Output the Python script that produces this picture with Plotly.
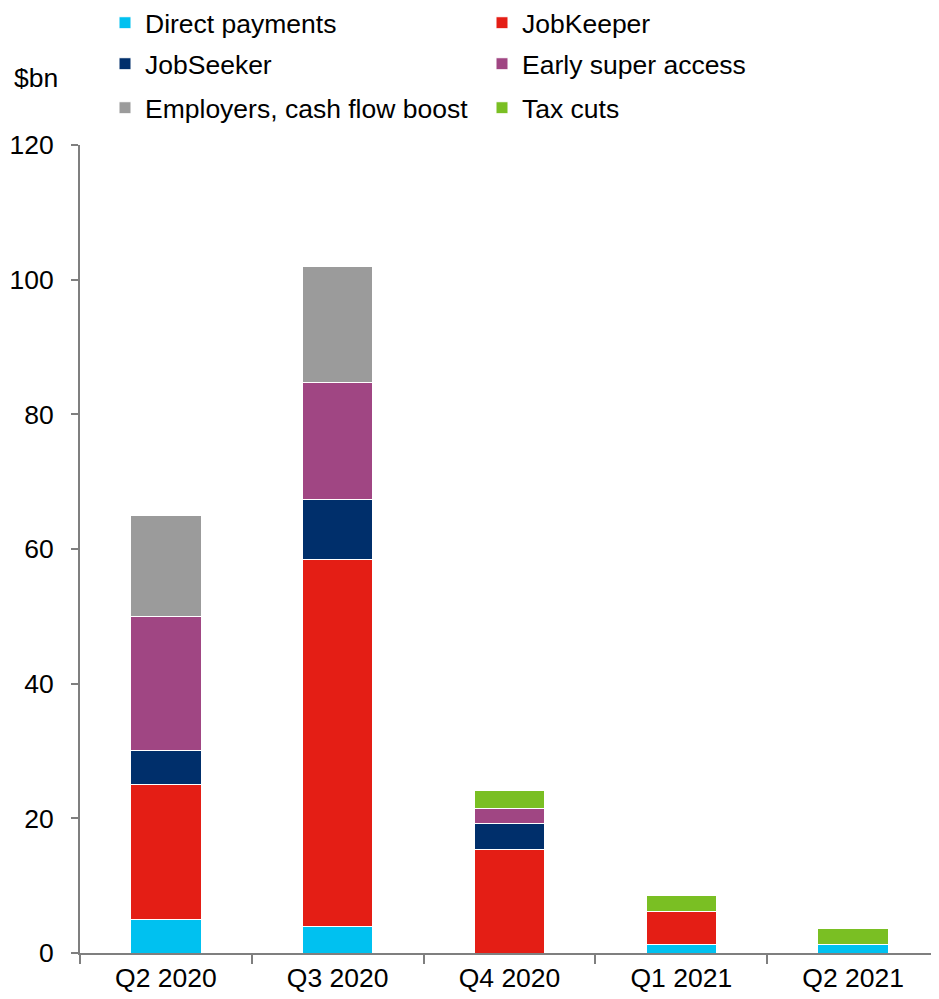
import plotly.graph_objects as go

categories = ["Q2 2020", "Q3 2020", "Q4 2020", "Q1 2021", "Q2 2021"]
direct_payments = [5.0, 4.0, 0.0, 1.3, 1.3]
jobkeeper = [20.0, 54.5, 15.4, 4.9, 0.0]
jobseeker = [5.1, 8.8, 3.8, 0.0, 0.0]
early_super = [19.9, 17.5, 2.3, 0.0, 0.0]
employers_cash = [15.0, 17.1, 0.0, 0.0, 0.0]
tax_cuts = [0.0, 0.0, 2.6, 2.4, 2.4]
y_ticks = [0, 20, 40, 60, 80, 100, 120]

series = [
    ("Direct payments", direct_payments, "#00C1F0", "legend"),
    ("JobKeeper", jobkeeper, "#E41E15", "legend"),
    ("JobSeeker", jobseeker, "#002F6B", "legend2"),
    ("Early super access", early_super, "#A04683", "legend2"),
    ("Employers, cash flow boost", employers_cash, "#9B9B9B", "legend3"),
    ("Tax cuts", tax_cuts, "#7ABF23", "legend3"),
]

font_family = "Liberation Sans, Arial, sans-serif"
FS = 26.5
OFF = 8  # page body margin

fig = go.Figure()
for name, vals, color, lg in series:
    fig.add_trace(go.Bar(
        x=categories, y=vals, name=name, legend=lg,
        marker=dict(color=color, line=dict(color="white", width=1)),
        width=0.41,
    ))

W, HT = 939 - OFF, 999 - OFF
L, T = 80 - OFF, 145 - OFF
B = HT - (953 - OFF)
PW = W - L
PH = HT - T - B

def ypaper(py):
    return ((953 - OFF) - (py - OFF)) / PH

def xpaper(px):
    return ((px - OFF) - L) / PW

legend_common = dict(
    orientation="h", xanchor="left", yanchor="middle", traceorder="normal",
    entrywidth=332, entrywidthmode="pixels",
    font=dict(size=FS, color="black", family=font_family),
    bgcolor="rgba(0,0,0,0)", itemclick=False, itemdoubleclick=False,
)

fig.update_layout(
    width=W, height=HT,
    margin=dict(l=L, r=0, t=T, b=B, autoexpand=False),
    paper_bgcolor="white", plot_bgcolor="white",
    barmode="stack",
    font=dict(family=font_family, size=FS, color="black"),
    legend=dict(**legend_common, x=xpaper(105), y=ypaper(23)),
    legend2=dict(**legend_common, x=xpaper(105), y=ypaper(64)),
    legend3=dict(**legend_common, x=xpaper(105), y=ypaper(108)),
    xaxis=dict(
        showline=True, linecolor="#7f7f7f", linewidth=2,
        ticks="outside", tickson="boundaries", ticklen=9, tickwidth=2,
        tickcolor="#7f7f7f", showgrid=False, zeroline=False,
        tickfont=dict(size=FS, color="black"),
    ),
    yaxis=dict(
        range=[0, 120], tickvals=y_ticks,
        showline=True, linecolor="#7f7f7f", linewidth=2,
        ticks="outside", ticklen=7, tickwidth=2, tickcolor="#7f7f7f",
        showgrid=False, zeroline=False, ticklabelstandoff=12,
        tickfont=dict(size=FS, color="black"),
    ),
    showlegend=True,
    annotations=[dict(
        text="$bn", xref="paper", yref="paper",
        x=xpaper(12), y=ypaper(78), xanchor="left", yanchor="middle",
        showarrow=False, font=dict(size=FS, color="black"),
    )],
)

fig.write_html("out.html")
